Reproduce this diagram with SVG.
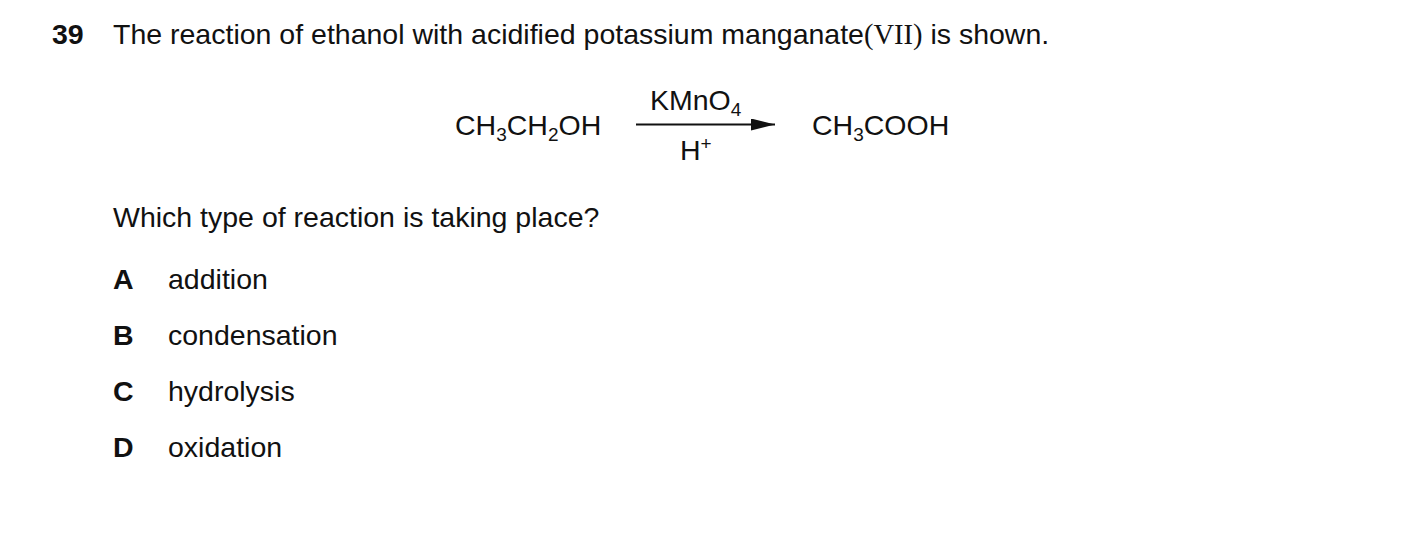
<svg xmlns="http://www.w3.org/2000/svg" width="1403" height="556" viewBox="0 0 1403 556">
<defs>
<style>
text{font-family:"Liberation Sans",Arial,sans-serif;font-size:28.5px;fill:#111}
.b{font-weight:bold}
.s{font-size:19px}
</style>
<marker id="ah" markerWidth="24" markerHeight="12" refX="24" refY="6" orient="auto" markerUnits="userSpaceOnUse"><path d="M0,0 L24,6 L0,12 Z" fill="#111"/></marker>
</defs>
<rect width="1403" height="556" fill="#fff"/>
<g id="title">
<text x="52" y="44" class="b">39</text>
<text x="113" y="44">The reaction of ethanol with acidified potassium manganate<tspan font-family="Liberation Serif,serif">(VII)</tspan> is shown.</text>
</g>
<g id="reactant"><text x="455" y="135">CH<tspan class="s" dy="6">3</tspan><tspan dy="-6">CH</tspan><tspan class="s" dy="6">2</tspan><tspan dy="-6">OH</tspan></text></g>
<g id="product"><text x="812" y="135">CH<tspan class="s" dy="6">3</tspan><tspan dy="-6">COOH</tspan></text></g>
<g id="connectors">
<line x1="636" y1="124.5" x2="775" y2="124.5" stroke="#111" stroke-width="2" marker-end="url(#ah)"/>
<text x="650" y="110">KMnO<tspan class="s" dy="6">4</tspan></text>
<text x="680" y="160">H<tspan class="s" dy="-10">+</tspan></text>
</g>
<g id="question">
<text x="113" y="227">Which type of reaction is taking place?</text>
<text x="113" y="289" class="b">A</text><text x="168" y="289">addition</text>
<text x="113" y="345" class="b">B</text><text x="168" y="345">condensation</text>
<text x="113" y="401" class="b">C</text><text x="168" y="401">hydrolysis</text>
<text x="113" y="457" class="b">D</text><text x="168" y="457">oxidation</text>
</g>
</svg>
